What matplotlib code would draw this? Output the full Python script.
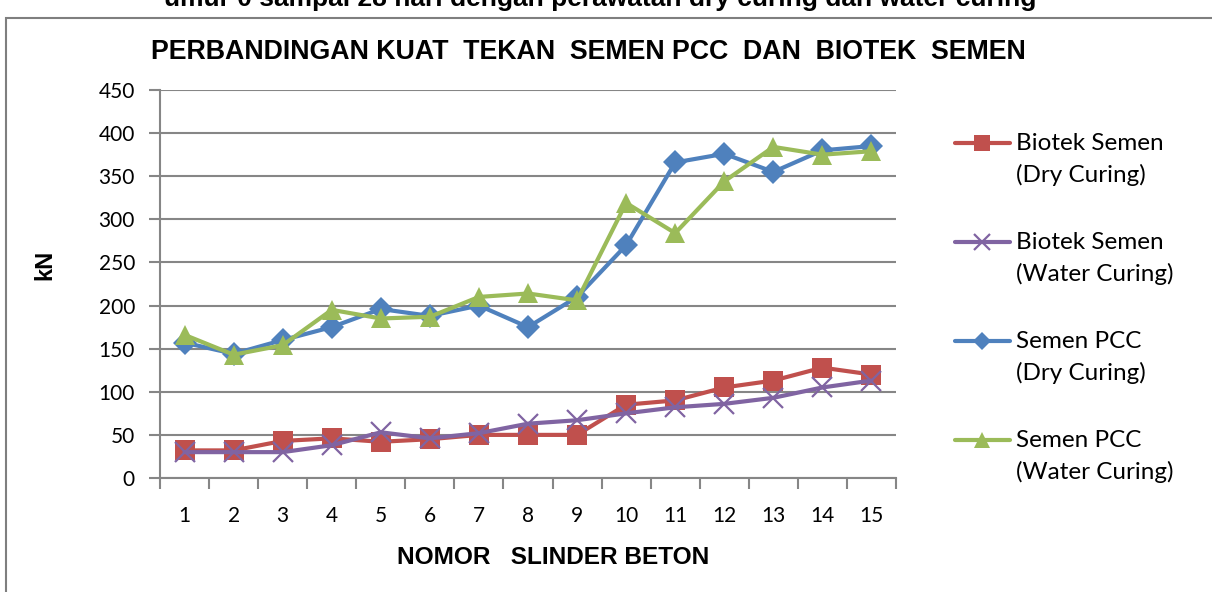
#grafik kuat tekan semen PCC dan biotek semen

import matplotlib
matplotlib.use('Agg')
import matplotlib.pyplot as plt
from matplotlib.lines import Line2D
from matplotlib.patches import Rectangle

#data yang dibaca dari grafik
nomor = list(range(1, 16))
biotek_dry = [32, 32, 43, 46, 42, 45, 50, 50, 50, 85, 90, 105, 113, 128, 120]
biotek_water = [30, 30, 30, 38, 53, 46, 52, 63, 67, 75, 82, 86, 93, 105, 113]
pcc_dry = [157, 144, 160, 175, 196, 188, 200, 175, 210, 270, 366, 376, 355, 380, 385]
pcc_water = [166, 143, 154, 195, 185, 187, 210, 214, 206, 319, 284, 344, 384, 375, 379]

labels = ['Biotek Semen\n(Dry Curing)', 'Biotek Semen\n(Water Curing)',
          'Semen PCC\n(Dry Curing)', 'Semen PCC\n(Water Curing)']
title = 'PERBANDINGAN KUAT  TEKAN  SEMEN PCC  DAN  BIOTEK  SEMEN'
caption = 'umur 0 sampai 28 hari dengan perawatan dry curing dan water curing'

#gaya tiap seri
styles = [
	dict(color='#C0504D', marker='s', markersize=14, markeredgewidth=0),
	dict(color='#8064A2', marker='x', markersize=14, markeredgewidth=1.6),
	dict(color='#4F81BD', marker='D', markersize=12, markeredgewidth=0),
	dict(color='#9BBB59', marker='^', markersize=15, markeredgewidth=0),
]
series = [biotek_dry, biotek_water, pcc_dry, pcc_water]

W, H = 1212, 592
fig = plt.figure(figsize=(W / 100, H / 100), dpi=100)
fig.set_facecolor('white')

#bingkai dan teks yang terpotong di atas
fig.add_artist(Rectangle((6 / W, -0.1), 1.2, 1 - 18 / H + 0.1, transform=fig.transFigure,
	fill=False, edgecolor='#7f7f7f', linewidth=1.5))
fig.text(600 / W, 1 + 1 / H, caption, ha='center', va='center', fontsize=19,
	fontweight='bold', family='Liberation Sans')

ax = fig.add_axes([160 / W, 1 - 478 / H, (896 - 160) / W, (478 - 90) / H])

for vals, st in zip(series, styles):
	ax.plot(nomor, vals, linewidth=3, solid_joinstyle='round', solid_capstyle='round', **st)

ax.set_xlim(0.5, 15.5)
ax.set_ylim(0, 450)
ax.set_yticks(range(0, 451, 50))
ax.set_xticks([i + 0.5 for i in range(0, 16)])
ax.set_xticklabels([])
ax.set_xticks(nomor, minor=True)
ax.set_xticklabels([str(n) for n in nomor], minor=True, fontsize=15, family='Lato')
ax.tick_params(axis='x', which='minor', length=0, pad=20)
ax.tick_params(axis='x', which='major', length=8, width=1.5, color='#868686', direction='out')
ax.tick_params(axis='y', length=8, width=1.5, color='#868686', direction='out', pad=10)
for t in ax.get_yticklabels():
	t.set_fontsize(15)
	t.set_family('Lato')
ax.grid(axis='y', color='#868686', linewidth=1.5)
ax.set_axisbelow(True)
for s in ['top', 'right']:
	ax.spines[s].set_visible(False)
for s in ['left', 'bottom']:
	ax.spines[s].set_color('#868686')
	ax.spines[s].set_linewidth(1.5)

fig.text(588 / W, 1 - 52 / H, title, ha='center', va='center', fontsize=19.3,
	fontweight='bold', family='Liberation Sans')
fig.text(553 / W, 1 - 557 / H, 'NOMOR   SLINDER BETON', ha='center', va='center',
	fontsize=17.6, fontweight='bold', family='Liberation Sans')
fig.text(45 / W, 1 - 265 / H, 'kN', ha='center', va='center', rotation=90,
	fontsize=17, fontweight='bold', family='Liberation Sans')

#legenda manual
for i, (lab, st) in enumerate(zip(labels, styles)):
	y = 143 + i * 99
	fig.add_artist(Line2D([955 / W, 1010 / W], [1 - y / H, 1 - y / H], transform=fig.transFigure,
		linewidth=3, solid_capstyle='round', color=st['color']))
	fig.add_artist(Line2D([982 / W], [1 - y / H], transform=fig.transFigure, linestyle='none',
		color=st['color'], marker=st['marker'], markersize=st['markersize'] * 0.8,
		markeredgewidth=st['markeredgewidth']))
	fig.text(1016 / W, 1 - (y - 10) / H, lab, ha='left', va='top', fontsize=17.5,
		family='Lato', linespacing=1.55)

fig.savefig('out.png', dpi=100, facecolor='white')
